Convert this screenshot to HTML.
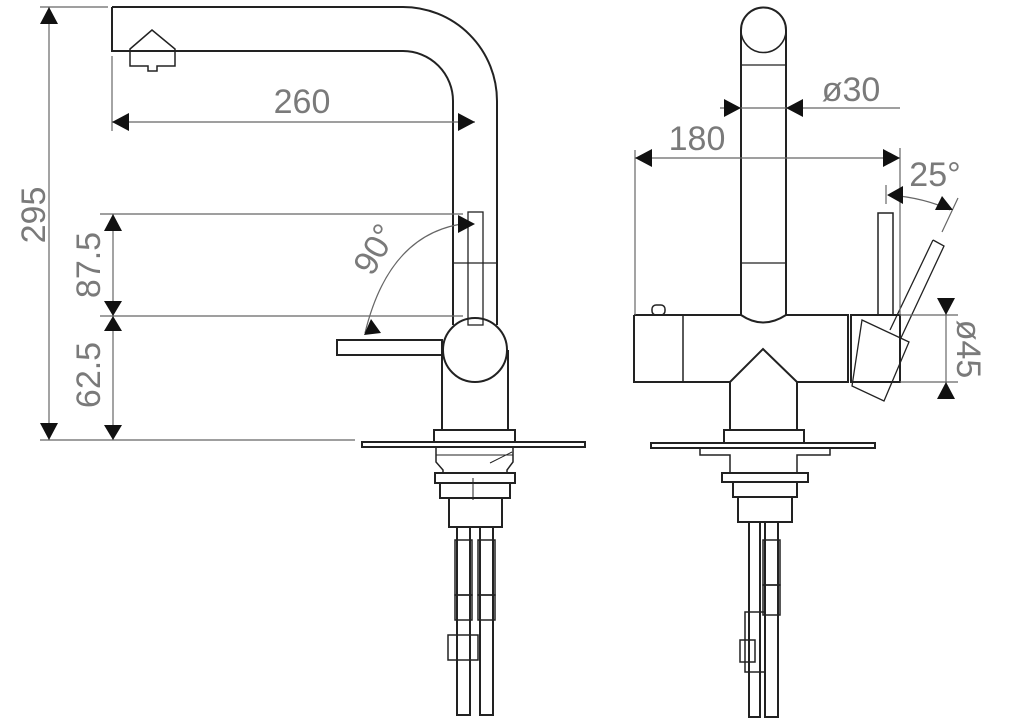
<!DOCTYPE html>
<html><head><meta charset="utf-8"><style>
html,body{margin:0;padding:0;background:#fff;}
svg{display:block;}
text{font-family:"Liberation Sans",sans-serif;fill:#7a7a7a;font-size:34px;}
</style></head><body>
<svg width="1024" height="723" viewBox="0 0 1024 723" xmlns="http://www.w3.org/2000/svg">
<g fill="none" stroke="#222" stroke-width="2">
<path d="M112 7 H403 A94 94 0 0 1 497 101 V325"/>
<path d="M112 7 V51 H403 A50 50 0 0 1 453 101 V325"/>
<path d="M130 49 L152 30 L175 49 V66 H157 V71 H148 V66 H130 Z" stroke-width="1.5"/>
<rect x="468" y="212" width="15" height="113" stroke-width="1.3"/>
<line x1="453" y1="263" x2="497" y2="263" stroke-width="1.3"/>
<circle cx="475" cy="350" r="32"/>
<path d="M442 350 V430 M508 350 V430"/>
<rect x="337" y="340" width="105" height="15"/>
<rect x="434" y="430" width="81" height="12"/>
<rect x="362" y="442" width="223" height="5"/>
<path d="M436 447 V462 L443 470 V473 M513 447 V462 L507 470 V473" stroke-width="1.5"/>
<line x1="436" y1="455" x2="513" y2="455" stroke-width="1"/>
<path d="M490 463 L512 452" stroke-width="1"/>
<rect x="435" y="473" width="80" height="10"/>
<rect x="440" y="483" width="70" height="15"/>
<line x1="473" y1="478" x2="473" y2="500" stroke-width="1"/>
<rect x="449" y="498" width="53" height="29"/>
<rect x="457" y="527" width="13" height="188"/>
<rect x="480" y="527" width="13" height="188"/>
<rect x="455" y="540" width="17" height="55" stroke-width="1.5"/>
<rect x="478" y="540" width="17" height="55" stroke-width="1.5"/>
<rect x="455" y="595" width="17" height="25" stroke-width="1.5"/>
<rect x="478" y="595" width="17" height="25" stroke-width="1.5"/>
<rect x="448" y="635" width="30" height="25" stroke-width="1.5"/>
<path d="M741 30 A22 22 0 0 1 786 30 V315 M741 30 V315"/>
<path d="M741 30 A22 22 0 0 0 786 30" stroke-width="1.5"/>
<line x1="741" y1="65" x2="786" y2="65" stroke-width="1.3"/>
<line x1="741" y1="263" x2="786" y2="263" stroke-width="1.3"/>
<path d="M634 315 H741 Q763 330 786 315 H848 V382 H797 V430 M634 315 V382 H730 V430" />
<path d="M730 382 L763 349 L797 382" />
<line x1="683" y1="315" x2="683" y2="382" stroke-width="1.5"/>
<rect x="652" y="305" width="13" height="10" rx="4" stroke-width="1.5"/>
<rect x="851" y="315" width="49" height="67"/>
<rect x="878" y="213" width="15" height="102" stroke-width="1.5"/>
<path d="M933 240 L944 246 L900 340 M933 240 L890 330" stroke-width="1.3"/>
<path d="M862 320 L909 342 L884 401 L852 386 Z" stroke-width="1.3"/>
<rect x="724" y="430" width="80" height="13"/>
<path d="M651 443 H875 V448 H651 Z"/>
<path d="M700 448 V455 H730 V473 M830 448 V455 H797 V473" stroke-width="1.5"/>
<rect x="722" y="473" width="86" height="9"/>
<rect x="733" y="482" width="64" height="15"/>
<rect x="738" y="497" width="54" height="25"/>
<rect x="749" y="522" width="11" height="195"/>
<rect x="765" y="522" width="13" height="195"/>
<rect x="763" y="540" width="17" height="45" stroke-width="1.5"/>
<rect x="763" y="585" width="17" height="30" stroke-width="1.5"/>
<rect x="745" y="612" width="20" height="60" stroke-width="1.5"/>
<rect x="740" y="640" width="15" height="22" stroke-width="1.5"/>
</g>
<g stroke="#666" stroke-width="1.2" fill="none">
<line x1="40" y1="7" x2="108" y2="7"/>
<line x1="49" y1="7" x2="49" y2="440"/>
<line x1="40" y1="440" x2="355" y2="440"/>
<line x1="112" y1="56" x2="112" y2="131"/>
<line x1="112" y1="122" x2="475" y2="122"/>
<line x1="100" y1="214" x2="463" y2="214"/>
<line x1="100" y1="316" x2="463" y2="316"/>
<line x1="113" y1="214" x2="113" y2="440"/>
<path d="M470 223 Q390 230 365 333"/>
<line x1="635" y1="150" x2="635" y2="315"/>
<line x1="900" y1="148" x2="900" y2="315"/>
<line x1="635" y1="158" x2="900" y2="158"/>
<line x1="720" y1="108" x2="900" y2="108"/>
<line x1="886" y1="185" x2="886" y2="204"/>
<path d="M890 195 Q925 198 950 210"/>
<line x1="958" y1="198" x2="942" y2="232"/>
<line x1="900" y1="315" x2="958" y2="315"/>
<line x1="900" y1="382" x2="958" y2="382"/>
<line x1="946" y1="298" x2="946" y2="398"/>
</g>
<g fill="#111">
<path d="M49 7 l-9 17 h18z M49 440 l-9 -17 h18z"/>
<path d="M113 214 l-9 17 h18z M113 316 l-9 -15 h18z M113 316 l-9 15 h18z M113 440 l-9 -15 h18z"/>
<path d="M112 122 l17 -9 v18z M475 122 l-17 -9 v18z"/>
<path d="M475 224 l-17 -9 v18z M364 335 l17 -2 l-10 -14z"/>
<path d="M635 158 l17 -9 v18z M900 158 l-17 -9 v18z"/>
<path d="M741 108 l-17 -9 v18z M786 108 l17 -9 v18z"/>
<path d="M887 195 l16 -9 v18z M953 210 l-18 0 l7 -14z"/>
<path d="M946 315 l-9 -17 h18z M946 382 l-9 17 h18z"/>
</g>
<text x="302" y="113" text-anchor="middle">260</text>
<text transform="translate(45,215) rotate(-90)" text-anchor="middle">295</text>
<text transform="translate(100,265) rotate(-90)" text-anchor="middle">87.5</text>
<text transform="translate(100,375) rotate(-90)" text-anchor="middle">62.5</text>
<text transform="translate(385,255) rotate(-60)" text-anchor="middle">90°</text>
<text x="697" y="150" text-anchor="middle">180</text>
<text x="851" y="101" text-anchor="middle">ø30</text>
<text x="935" y="186" text-anchor="middle">25°</text>
<text transform="translate(957,349) rotate(90)" text-anchor="middle">ø45</text>
</svg>
</body></html>
